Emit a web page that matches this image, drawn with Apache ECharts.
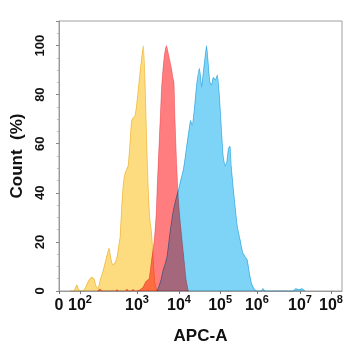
<!DOCTYPE html>
<html>
<head>
<meta charset="utf-8">
<script src="https://cdn.jsdelivr.net/npm/echarts@6/dist/echarts.min.js"></script>
<style>
  html, body { margin: 0; padding: 0; background: #ffffff; }
  #chart { width: 348px; height: 350px; }
</style>
</head>
<body>
<div id="chart"></div>
<script>
// APC-A fluorescence on a 0–1024 display-channel scale (biexponential display).
// Decade marks sit at the channels below; exponent null means the "0" mark.
const tickChannels = [0, 76, 282, 434, 583, 716, 872, 984];
const tickExponents = [null, 2, 3, 4, 5, 6, 7, 8];

// Histograms: [channel, count as % of mode]
const isotypeControl = [
  [40, 0], [54, 0], [60, 1.5], [65, 2.5], [71, 0.5], [76, 0], [90, 0.3], [98, 2],
  [109, 4.5], [119, 5.6], [127, 4.8], [134, 2], [141, 1], [148, 4], [159, 8],
  [170, 13], [181, 17.5], [188, 13], [195, 10.7], [203, 11.5], [210, 14], [217, 19],
  [221, 22], [227, 34.6], [233, 44], [239, 48], [250, 51], [257, 60.6], [263, 69.5],
  [275, 71.5], [281, 76], [287, 82.5], [293, 89], [299, 95], [305, 100], [311, 86.6],
  [317, 62], [323, 41.4], [329, 29], [335, 23.7], [341, 12.7], [347, 3], [355, 0]
];

const negativeCells = [
  [140, 0], [148, 0.8], [156, 0], [205, 0], [210, 0.6], [215, 0], [240, 0], [246, 0.8],
  [252, 0], [262, 0], [268, 0.7], [274, 0], [279, 0], [293, 0.5], [304, 1.5],
  [315, 4], [326, 5], [335, 12.7], [342, 18], [347, 23.7], [352, 32], [355, 41.4],
  [359, 52], [363, 62], [367, 72], [371, 82.5], [376, 90], [380, 94.8], [384, 98],
  [389, 100], [395, 97], [402, 93.4], [408, 90], [412, 87], [416, 85], [420, 69],
  [426, 51], [432, 37], [440, 26.4], [450, 15.5], [460, 4.5], [468, 0]
];

const positiveCells = [
  [355, 0], [362, 2], [369, 4.5], [377, 8.6], [384, 11], [391, 14], [402, 24],
  [414, 33], [426, 38.7], [432, 41], [438, 44], [450, 49.6], [456, 54], [462, 59],
  [471, 66], [476, 69.5], [482, 67.5], [490, 74.4], [498, 84], [508, 90.7], [513, 86.6],
  [516, 83], [522, 89], [528, 94.8], [534, 100], [539, 94], [546, 85], [552, 84],
  [558, 87], [566, 86], [573, 88], [580, 80], [589, 63.5], [594, 55], [601, 51],
  [607, 52.5], [613, 58], [619, 59], [623, 51], [631, 41.4], [637, 34.6], [645, 26.4],
  [655, 21], [665, 15.5], [673, 14], [681, 12.7], [689, 7.2], [697, 3], [706, 0.8],
  [715, 0], [731, 0], [738, 1], [745, 0], [847, 0], [857, 1], [868, 0.5], [879, 1], [890, 0]
];

const FONT = '"Liberation Sans", Arial, sans-serif';

function histogram(name, data, fill, edge, blend, opacity) {
  return {
    name: name,
    type: 'line',
    data: data,
    showSymbol: false,
    symbol: 'none',
    smooth: 0.15,
    blendMode: blend,
    lineStyle: { color: edge, width: edge ? 0.8 : 0 },
    areaStyle: { color: fill, opacity: opacity },
    emphasis: { disabled: true },
    silent: true
  };
}

const chart = echarts.init(document.getElementById('chart'), null, { renderer: 'canvas' });

chart.setOption({
  animation: false,
  backgroundColor: '#ffffff',
  grid: {
    left: 59, right: 6, top: 21, bottom: 59,
    show: true, borderColor: '#a0a0a0', borderWidth: 1, backgroundColor: 'transparent'
  },
  xAxis: {
    type: 'value',
    min: 0,
    max: 1024,
    name: 'APC-A',
    nameLocation: 'middle',
    nameGap: 37,
    nameTextStyle: { fontFamily: FONT, fontWeight: 'bold', fontSize: 17, color: '#111' },
    axisLine: { show: true, lineStyle: { color: '#9a9a9a', width: 1 } },
    axisTick: { show: true, customValues: tickChannels, length: 3, lineStyle: { color: '#777' } },
    splitLine: { show: false },
    axisLabel: {
      customValues: tickChannels,
      margin: 3,
      formatter: function (v) {
        const i = tickChannels.indexOf(Math.round(v));
        if (i < 0) return '';
        const e = tickExponents[i];
        return e === null ? '{b|0}' : '{b|10}{s|' + e + '}';
      },
      rich: {
        b: { fontFamily: FONT, fontWeight: 'bold', fontSize: 16, color: '#111', lineHeight: 20, verticalAlign: 'bottom' },
        s: { fontFamily: FONT, fontWeight: 'bold', fontSize: 11, color: '#111', lineHeight: 20, verticalAlign: 'top' }
      }
    }
  },
  yAxis: {
    type: 'value',
    min: 0,
    max: 110,
    interval: 20,
    name: 'Count  (%)',
    nameLocation: 'middle',
    nameGap: 28,
    nameTextStyle: { fontFamily: FONT, fontWeight: 'bold', fontSize: 17, color: '#111' },
    axisLine: { show: true, lineStyle: { color: '#9a9a9a', width: 1 } },
    axisTick: { show: true, length: 3, lineStyle: { color: '#888' } },
    minorTick: { show: true, splitNumber: 4, length: 2, lineStyle: { color: '#bbb' } },
    splitLine: { show: false },
    axisLabel: {
      rotate: 90,
      margin: 12,
      fontFamily: FONT,
      fontWeight: 'bold',
      fontSize: 13,
      color: '#111',
      formatter: function (v) { return v > 100 ? '' : String(v); }
    }
  },
  series: [
    histogram('Isotype control', isotypeControl, '#FDDC80', '#F2CB62', 'multiply', 1),
    histogram('Positive cells', positiveCells, '#7DD4F6', '#5DBFE8', 'multiply', 1),
    // negative-cell histogram: tinted multiply layer plus a translucent red wash on top
    histogram('Negative cells', negativeCells, '#FFB5B9', '#F0A0A6', 'multiply', 1),
    histogram('Negative cells ', negativeCells, '#FF0000', null, 'source-over', 0.31)
  ]
});
</script>
</body>
</html>
